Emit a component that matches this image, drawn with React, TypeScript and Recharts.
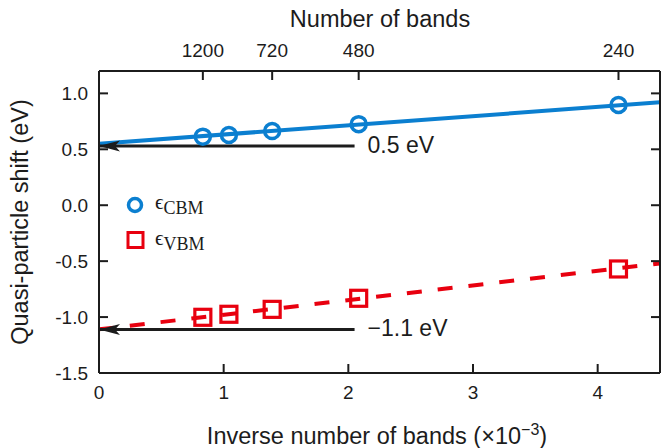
import React from 'react';
import { ComposedChart, Line, Scatter, XAxis, YAxis, Legend } from 'recharts';

// ---- data ----
const inverseBands = [0.833, 1.042, 1.389, 2.083, 4.167];
const cbmShift = [0.613, 0.628, 0.663, 0.725, 0.896];
const vbmShift = [-1.002, -0.975, -0.931, -0.832, -0.57];
const fitX = [0, 4.5];
const cbmFitY = [0.55, 0.92];
const vbmFitY = [-1.11, -0.52];
const arrowX = [0, 2.05];
const cbmArrowY = [0.53, 0.53];
const vbmArrowY = [-1.11, -1.11];
const arrowLabels = ['0.5 eV', '\u22121.1 eV'];
const bottomTicks = [0, 1, 2, 3, 4];
const topTickValues = [0.833, 1.389, 2.083, 4.167];
const topTickLabels = ['1200', '720', '480', '240'];
const yTicks = [-1.5, -1.0, -0.5, 0.0, 0.5, 1.0];
const legendNames = ['CBM', 'VBM'];

const BLUE = '#0b7fd0';
const RED = '#e8000f';
const INK = '#1c1c1c';
const FONT = '"Liberation Sans", Arial, Helvetica, sans-serif';
const SERIF = '"Liberation Serif", "Times New Roman", serif';

const zip = (xs: number[], ys: number[]) => xs.map((x, i) => ({ x, y: ys[i] }));
const cbmPoints = zip(inverseBands, cbmShift);
const vbmPoints = zip(inverseBands, vbmShift);
const cbmFit = zip(fitX, cbmFitY);
const vbmFit = zip(fitX, vbmFitY);
const cbmArrow = zip(arrowX, cbmArrowY);
const vbmArrow = zip(arrowX, vbmArrowY);

const TICK_LEN = 9;

const BottomTick = (p: any) => (
  <g>
    <line x1={p.x} y1={p.y} x2={p.x} y2={p.y - TICK_LEN} stroke={INK} strokeWidth={2} />
    <text x={p.x} y={p.y + 26} textAnchor="middle" fontSize={19} fontFamily={FONT} fill={INK}>
      {String(p.payload.value)}
    </text>
  </g>
);

const TopTick = (p: any) => {
  const idx = topTickValues.indexOf(p.payload.value);
  return (
    <g>
      <line x1={p.x} y1={p.y} x2={p.x} y2={p.y + TICK_LEN} stroke={INK} strokeWidth={2} />
      <text x={p.x} y={p.y - 14} textAnchor="middle" fontSize={19} fontFamily={FONT} fill={INK}>
        {idx >= 0 ? topTickLabels[idx] : ''}
      </text>
    </g>
  );
};

const LeftTick = (p: any) => (
  <g>
    <line x1={p.x} y1={p.y} x2={p.x + TICK_LEN} y2={p.y} stroke={INK} strokeWidth={2} />
    <text x={p.x - 11} y={p.y + 7} textAnchor="end" fontSize={19} fontFamily={FONT} fill={INK}>
      {Number(p.payload.value).toFixed(1)}
    </text>
  </g>
);

const RightTick = (p: any) => (
  <line x1={p.x} y1={p.y} x2={p.x - TICK_LEN} y2={p.y} stroke={INK} strokeWidth={2} />
);

const CircleMarker = (p: any) => (
  <circle cx={p.cx} cy={p.cy} r={7.5} fill="none" stroke={BLUE} strokeWidth={3.5} />
);
const SquareMarker = (p: any) => (
  <rect x={p.cx - 8} y={p.cy - 8} width={16} height={16} fill="none" stroke={RED} strokeWidth={3.2} />
);

const makeArrowDot = () => (p: any) => {
  if (p.index !== 0) return <g key={`d${p.index}`} />;
  const { cx, cy } = p;
  return (
    <polygon
      key={`d${p.index}`}
      points={`${cx},${cy} ${cx + 21},${cy - 5.5} ${cx + 16},${cy} ${cx + 21},${cy + 5.5}`}
      fill={INK}
      stroke="none"
    />
  );
};

const makeArrowLabel = (text: string) => (p: any) => {
  if (p.index !== 1) return null;
  return (
    <text x={p.x + 13} y={p.y + 7} fontSize={23} fontFamily={FONT} fill={INK}>
      {text}
    </text>
  );
};

const renderLegend = () => (
  <svg width={130} height={66} style={{ display: 'block', overflow: 'visible' }}>
    <circle cx={11} cy={11} r={6.5} fill="none" stroke={BLUE} strokeWidth={3.5} />
    <text x={31} y={15} fontFamily={SERIF} fill={INK}>
      <tspan fontSize={21}>{'\u03F5'}</tspan>
      <tspan fontSize={18} dy={5}>{legendNames[0]}</tspan>
    </text>
    <rect x={4} y={38.5} width={15} height={15} fill="none" stroke={RED} strokeWidth={3} />
    <text x={31} y={51} fontFamily={SERIF} fill={INK}>
      <tspan fontSize={21}>{'\u03F5'}</tspan>
      <tspan fontSize={18} dy={5}>{legendNames[1]}</tspan>
    </text>
  </svg>
);

export default function App() {
  return (
    <div style={{ position: 'absolute', left: 0, top: 0, width: 661, height: 448, background: '#fff' }}>
      <ComposedChart
        width={661}
        height={448}
        margin={{ top: 0, right: 0, bottom: 0, left: 0 }}
        style={{ fontFamily: FONT }}
      >
        <XAxis
          xAxisId="b"
          dataKey="x"
          type="number"
          orientation="bottom"
          domain={[0, 4.5]}
          ticks={bottomTicks}
          interval={0}
          height={75}
          allowDataOverflow
          tickLine={false}
          tickSize={0}
          tickMargin={0}
          axisLine={{ stroke: INK, strokeWidth: 2 }}
          tick={BottomTick}
        />
        <XAxis
          xAxisId="t"
          dataKey="x"
          type="number"
          orientation="top"
          domain={[0, 4.5]}
          ticks={topTickValues}
          interval={0}
          height={71}
          allowDataOverflow
          tickLine={false}
          tickSize={0}
          tickMargin={0}
          axisLine={{ stroke: INK, strokeWidth: 2 }}
          tick={TopTick}
        />
        <YAxis
          yAxisId="l"
          type="number"
          orientation="left"
          domain={[-1.5, 1.2]}
          ticks={yTicks}
          interval={0}
          width={99}
          allowDataOverflow
          tickLine={false}
          tickSize={0}
          tickMargin={0}
          axisLine={{ stroke: INK, strokeWidth: 2 }}
          tick={LeftTick}
        />
        <YAxis
          yAxisId="r"
          type="number"
          orientation="right"
          domain={[-1.5, 1.2]}
          ticks={yTicks}
          interval={0}
          width={1}
          allowDataOverflow
          tickLine={false}
          tickSize={0}
          tickMargin={0}
          axisLine={{ stroke: INK, strokeWidth: 2 }}
          tick={RightTick}
        />

        <Line
          xAxisId="b"
          yAxisId="l"
          data={cbmFit}
          dataKey="y"
          stroke={BLUE}
          strokeWidth={4}
          dot={false}
          activeDot={false}
          isAnimationActive={false}
          legendType="none"
        />
        <Line
          xAxisId="b"
          yAxisId="l"
          data={vbmFit}
          dataKey="y"
          stroke={RED}
          strokeWidth={4}
          strokeDasharray="15 16"
          dot={false}
          activeDot={false}
          isAnimationActive={false}
          legendType="none"
        />
        <Line
          xAxisId="t"
          yAxisId="r"
          data={cbmArrow}
          dataKey="y"
          stroke={INK}
          strokeWidth={3}
          dot={makeArrowDot()}
          activeDot={false}
          label={makeArrowLabel(arrowLabels[0])}
          isAnimationActive={false}
          legendType="none"
        />
        <Line
          xAxisId="t"
          yAxisId="r"
          data={vbmArrow}
          dataKey="y"
          stroke={INK}
          strokeWidth={3}
          dot={makeArrowDot()}
          activeDot={false}
          label={makeArrowLabel(arrowLabels[1])}
          isAnimationActive={false}
          legendType="none"
        />
        <Scatter
          xAxisId="b"
          yAxisId="l"
          data={cbmPoints}
          dataKey="y"
          shape={CircleMarker}
          isAnimationActive={false}
        />
        <Scatter
          xAxisId="b"
          yAxisId="l"
          data={vbmPoints}
          dataKey="y"
          shape={SquareMarker}
          isAnimationActive={false}
        />
        <Legend
          layout="vertical"
          align="center"
          verticalAlign="middle"
          content={renderLegend}
          wrapperStyle={{ position: 'absolute', left: 124, top: 194, width: 130, height: 66 }}
        />
      </ComposedChart>
      <svg
        width={661}
        height={448}
        style={{ position: 'absolute', left: 0, top: 0, pointerEvents: 'none' }}
      >
        <text x={380} y={27} textAnchor="middle" fontSize={23.5} fontFamily={FONT} fill={INK}>
          Number of bands
        </text>
        <text x={377} y={444} textAnchor="middle" fontSize={23.5} fontFamily={FONT} fill={INK}>
          Inverse number of bands (×10
          <tspan fontSize={16} dy={-9}>{'\u22123'}</tspan>
          <tspan dy={9}>)</tspan>
        </text>
        <text
          x={0}
          y={0}
          transform="translate(28,222) rotate(-90)"
          textAnchor="middle"
          fontSize={23.5}
          fontFamily={FONT}
          fill={INK}
        >
          Quasi-particle shift (eV)
        </text>
      </svg>
    </div>
  );
}
